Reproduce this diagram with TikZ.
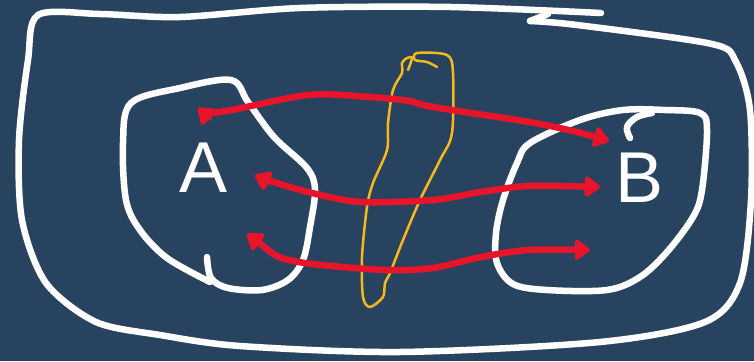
\documentclass[tikz,border=0pt]{standalone}
\usepackage{fontspec}
\setmainfont{Liberation Sans}
\usetikzlibrary{arrows.meta}
\definecolor{bg}{HTML}{284360}
\definecolor{redink}{HTML}{E8142A}
\definecolor{yellowink}{HTML}{F7B81C}
\tikzset{
  whiteink/.style={draw=white,line width=6.5pt,line cap=round,line join=round},
  redarrow/.style={draw=redink,line width=6.5pt,line cap=round,line join=round,
    {Triangle[round,length=17pt,width=23pt]}-{Triangle[round,length=17pt,width=23pt]}},
  yellowline/.style={draw=yellowink,line width=2.5pt,line cap=round,line join=round},
  letter/.style={text=white,font=\fontsize{72}{72}\selectfont,inner sep=0pt}
}
\begin{document}
\begin{tikzpicture}[x=1pt,y=-1pt]
\useasboundingbox (0,0) rectangle (754,361);
\fill[bg] (0,0) rectangle (754,361);
% outer border
\draw[whiteink] plot[smooth,tension=0.5] coordinates {
 (601,13) (450,7) (300,8) (180,17) (100,14) (38,15)
 (28,60) (19,140) (22,220) (46,283) (96,322) (160,335) (240,346) (400,352) (600,342) (705,322) (740,283) (751,200) (750,110) (736,62) (712,44) (577,25) (530,21)};
\draw[whiteink] (530,21) -- (548,14);
% blob A
\draw[whiteink] plot[smooth,tension=0.55] coordinates {
 (207,257) (211,278) (228,288) (262,290) (288,280) (303,260) (310,227) (315,190) (307,168) (274,137) (248,102) (231,80) (180,88) (131,103) (123,143) (126,200) (140,230) (167,258) (210,282)};
% blob B
\draw[whiteink] plot[smooth cycle,tension=0.55] coordinates {
 (530,143) (580,120) (623,110) (665,110) (700,113) (707,130) (702,190) (693,217) (667,252) (640,277) (607,290) (547,290) (513,284) (497,263) (496,233) (503,200) (517,163)};
\draw[whiteink] plot[smooth,tension=0.6] coordinates {(630,138) (627,127) (637,117) (652,113)};
% letters
\node[letter] (A) at (204,168) {A};
\node[letter] (B) at (640,178) {B};
% yellow loop
\draw[yellowline] plot[smooth,tension=0.5] coordinates {
 (408,70) (412,58) (407,58) (402,63) (402,73) (393,90) (388,123) (387,150) (373,183) (367,207) (362,257) (363,297) (370,307) (383,297) (385,283) (390,273) (403,240) (420,200) (440,160) (452,133) (453,73) (447,55) (417,53) (415,60) (427,62) (437,67)};
% red arrows
\coordinate (a1) at (198,108);
\coordinate (b1) at (609,141);
\coordinate (a2) at (255,175);
\coordinate (b2) at (600,187);
\coordinate (a3) at (247,234);
\coordinate (b3) at (590,250);
\draw[redarrow] plot[smooth,tension=0.5] coordinates {(a1) (220,112) (308,95) (370,97) (409,101) (433,107) (529,122) (577,132) (b1)};
\draw[redarrow] plot[smooth,tension=0.5] coordinates {(a2) (270,181) (312,193) (361,202) (433,200) (481,192) (529,186) (b2)};
\draw[redarrow] plot[smooth,tension=0.5] coordinates {(a3) (262,245) (279,257) (312,264) (385,270) (433,268) (481,257) (529,250) (b3)};
\end{tikzpicture}
\end{document}
